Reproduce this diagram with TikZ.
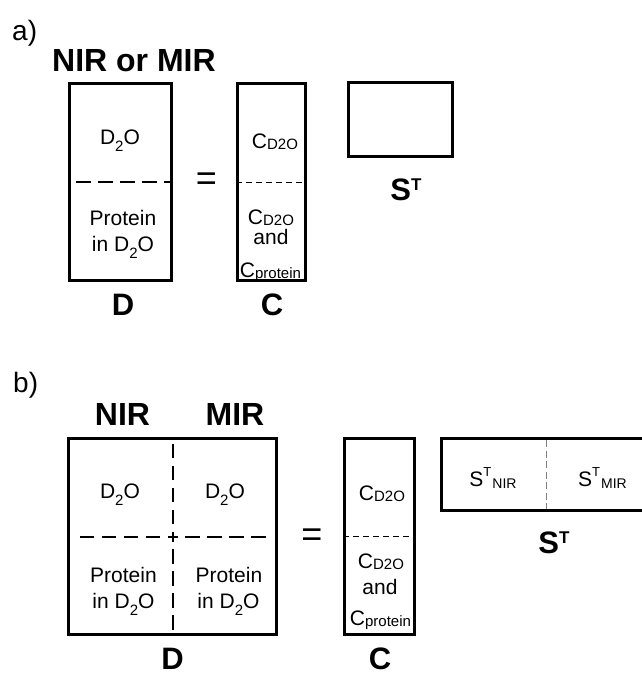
\documentclass[tikz,border=0pt]{standalone}
\usepackage{fontspec}
\setmainfont{Liberation Sans}
\newcommand\dto{D\raisebox{-7pt}{\fontsize{15}{15}\selectfont 2}O}
\newcommand\csub[1]{C\raisebox{-1pt}{\fontsize{15}{15}\selectfont #1}}
\newcommand\stsub[1]{S\raisebox{10pt}{\fontsize{13}{13}\selectfont T}\kern1pt\raisebox{-2pt}{\fontsize{14}{14}\selectfont #1}}
\newcommand\stbig{S\raisebox{10pt}{\fontsize{17}{17}\selectfont T}}
\tikzset{
  box/.style={draw, line width=3pt, inner sep=0pt},
  txt/.style={font=\fontsize{21}{21}\selectfont, inner sep=0pt, anchor=base},
  big/.style={font=\bfseries\fontsize{31}{31}\selectfont, inner sep=0pt, anchor=base},
  lab/.style={font=\fontsize{28}{28}\selectfont, inner sep=0pt, anchor=base west},
  eq/.style={font=\fontsize{36}{36}\selectfont, inner sep=0pt, anchor=base},
  thickdash/.style={line width=2pt, dash pattern=on 14.5pt off 7.5pt},
  thindash/.style={line width=1pt, dash pattern=on 6pt off 4pt},
  graydash/.style={line width=1pt, draw=black!50, dash pattern=on 7pt off 3.5pt},
}
\begin{document}
\begin{tikzpicture}[x=1pt,y=-1pt]
\useasboundingbox[fill=white] (0,0) rectangle (642,675);
% ---------------- a) ----------------
\node[lab] (la) at (12,40) {a)};
\node[big, font=\bfseries\fontsize{32}{32}\selectfont] (hA) at (134,71) {NIR or MIR};
\node[box, minimum width=102pt, minimum height=197pt] (Da) at (120.5,182) {};
\coordinate (DaL) at (76,182);
\coordinate (DaR) at (172,182);
\draw[thickdash] (DaL) -- (DaR);
\node[txt] (a1) at (120,144) {\dto};
\node[txt] (a2) at (123,225) {Protein};
\node[txt] (a3) at (123,251) {in \dto};
\node[big] (aD) at (123,315) {D};
\node[eq] (aeq) at (206.5,190.5) {=};
\node[box, minimum width=68pt, minimum height=197pt] (Ca) at (271.5,182) {};
\draw[thindash] (Ca.west) -- (Ca.east);
\node[txt] (a4) at (275,148) {\csub{D2O}};
\node[txt] (a5) at (271,224) {\csub{D2O}};
\node[txt] (a6) at (271,244) {and};
\node[txt] (a7) at (270.5,277) {\csub{protein}};
\node[big] (aC) at (272,315) {C};
\node[box, minimum width=104pt, minimum height=74pt] (Sa) at (400.5,119.5) {};
\node[big] (aS) at (406,200) {\stbig};
% ---------------- b) ----------------
\node[lab] (lb) at (13,392) {b)};
\node[big, font=\bfseries\fontsize{32}{32}\selectfont] (hN) at (122.5,425) {NIR};
\node[big, font=\bfseries\fontsize{32}{32}\selectfont] (hM) at (235,425) {MIR};
\node[box, minimum width=208pt, minimum height=196pt] (Db) at (172.5,536.5) {};
\coordinate (DbX) at (172.5,536.5);
\coordinate (DbL) at (76.5,536.5);
\coordinate (DbR) at (268.5,536.5);
\coordinate (DbT) at (172.5,437);
\coordinate (DbB) at (172.5,636);
\draw[thickdash, dash phase=9.5pt] (DbX) -- (DbL);
\draw[thickdash, dash phase=9.5pt] (DbX) -- (DbR);
\draw[thickdash, dash phase=9.5pt] (DbX) -- (DbT);
\draw[thickdash, dash phase=9.5pt] (DbX) -- (DbB);
\node[txt] (b1) at (120,498) {\dto};
\node[txt] (b2) at (225,498) {\dto};
\node[txt] (b3) at (123.5,582) {Protein};
\node[txt] (b4) at (123.5,608) {in \dto};
\node[txt] (b5) at (229,582) {Protein};
\node[txt] (b6) at (228.5,608) {in \dto};
\node[big] (bD) at (172.5,669) {D};
\node[eq] (beq) at (312,546.5) {=};
\node[box, minimum width=70pt, minimum height=196pt] (Cb) at (379.5,536.5) {};
\draw[thindash] (Cb.west) -- (Cb.east);
\node[txt] (b7) at (382,500) {\csub{D2O}};
\node[txt] (b8) at (381,568) {\csub{D2O}};
\node[txt] (b9) at (380,594) {and};
\node[txt] (b10) at (380.5,625) {\csub{protein}};
\node[big] (bC) at (380,669) {C};
\node[box, minimum width=210pt, minimum height=72pt] (Sb) at (546.5,474.5) {};
\coordinate (SbT) at (546,440);
\coordinate (SbB) at (546,509);
\draw[graydash] (SbT) -- (SbB);
\node[txt] (b11) at (493,486) {\stsub{NIR}};
\node[txt] (b12) at (602.5,486) {\stsub{MIR}};
\node[big] (bS) at (554,553) {\stbig};
\end{tikzpicture}
\end{document}
